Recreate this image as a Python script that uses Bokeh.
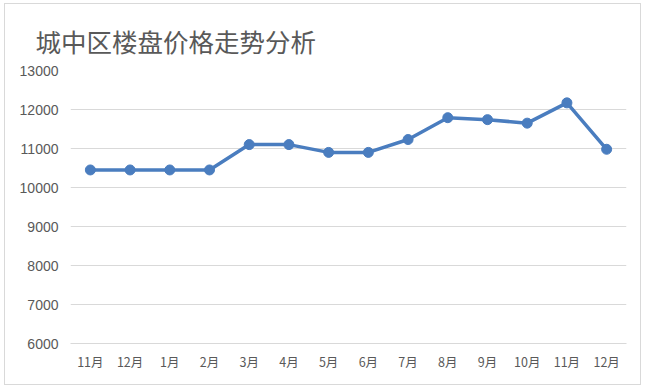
from bokeh.plotting import figure
from bokeh.models import ColumnDataSource, Range1d, FixedTicker
from bokeh.embed import file_html
from bokeh.resources import INLINE

months = ["11月", "12月", "1月", "2月", "3月", "4月", "5月", "6月", "7月", "8月", "9月", "10月", "11月", "12月"]
prices = [10450, 10450, 10450, 10450, 11100, 11100, 10900, 10900, 11230, 11790, 11740, 11650, 12170, 10980]
y_ticks = [6000, 7000, 8000, 9000, 10000, 11000, 12000, 13000]
title_text = "城中区楼盘价格走势分析"

xs = list(range(len(months)))
src = ColumnDataSource(data=dict(x=xs, y=prices))

p = figure(width=637, height=382, output_backend="svg", toolbar_location=None,
           x_range=Range1d(-0.5, len(months) - 0.5), y_range=Range1d(y_ticks[0], y_ticks[-1]),
           min_border_left=65, min_border_right=16, min_border_top=66, min_border_bottom=43)

p.title.text = title_text
p.title.text_font = "Noto Sans CJK SC"
p.title.text_font_size = "25.5px"
p.title.text_font_style = "normal"
p.title.text_color = "#595959"
p.title.align = "left"
p.title.offset = -35
p.title.standoff = 23

p.outline_line_color = None
p.background_fill_color = "white"
p.border_fill_color = "white"
p.styles = {"border": "1px solid #d9d9d9", "margin-left": "4px", "margin-top": "3px"}

p.xgrid.grid_line_color = None
p.ygrid.grid_line_color = "#d9d9d9"
p.ygrid.grid_line_width = 1

p.yaxis.ticker = FixedTicker(ticks=y_ticks)
p.yaxis.axis_line_color = None
p.yaxis.major_tick_line_color = None
p.yaxis.minor_tick_line_color = None
p.yaxis.major_tick_in = 0
p.yaxis.major_tick_out = 0
p.yaxis.major_label_standoff = 12
p.yaxis.major_label_text_font = "Liberation Sans"
p.yaxis.major_label_text_font_size = "14px"
p.yaxis.major_label_text_color = "#595959"

p.xaxis.ticker = FixedTicker(ticks=xs)
p.xaxis.major_label_overrides = {i: m for i, m in enumerate(months)}
p.xaxis.axis_line_color = "#d9d9d9"
p.xaxis.major_tick_line_color = None
p.xaxis.minor_tick_line_color = None
p.xaxis.major_tick_in = 0
p.xaxis.major_tick_out = 0
p.xaxis.major_label_standoff = 8
p.xaxis.major_label_text_font = "Noto Sans CJK SC"
p.xaxis.major_label_text_font_size = "12.5px"
p.xaxis.major_label_text_color = "#595959"

color = "#4a7dbf"
p.line("x", "y", source=src, line_color=color, line_width=3.5)
p.scatter("x", "y", source=src, size=10, fill_color=color, line_color=color)

open("out.html", "w").write(file_html(p, INLINE))
